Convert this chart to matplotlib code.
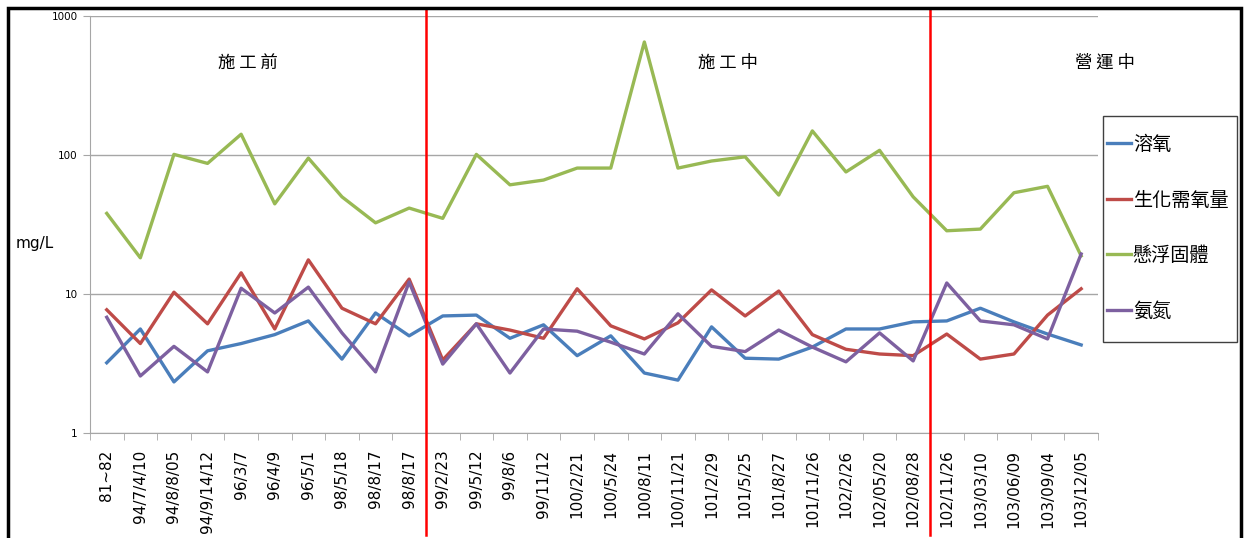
import matplotlib
matplotlib.use("Agg")
import matplotlib.pyplot as plt
from matplotlib.patches import Rectangle
from matplotlib.ticker import FixedLocator, NullLocator, NullFormatter

plt.rcParams["font.family"] = ["DejaVu Sans", "Noto Sans CJK TC"]

dates = [
    "81~82", "94/7/4/10", "94/8/8/05", "94/9/14/12", "96/3/7", "96/4/9", "96/5/1",
    "98/5/18", "98/8/17", "98/8/17", "99/2/23", "99/5/12", "99/8/6", "99/11/12",
    "100/2/21", "100/5/24", "100/8/11", "100/11/21", "101/2/29", "101/5/25",
    "101/8/27", "101/11/26", "102/2/26", "102/05/20", "102/08/28", "102/11/26",
    "103/03/10", "103/06/09", "103/09/04", "103/12/05",
]

# 溶氧
dissolved_oxygen = [
    3.2, 5.6, 2.33, 3.9, 4.4, 5.1, 6.4, 3.4, 7.3, 5.0,
    6.95, 7.05, 4.8, 6.0, 3.6, 5.0, 2.7, 2.4, 5.8, 3.45,
    3.4, 4.15, 5.6, 5.6, 6.3, 6.4, 7.9, 6.3, 5.15, 4.3,
]
# 生化需氧量
bod = [
    7.7, 4.4, 10.3, 6.1, 14.2, 5.6, 17.6, 7.9, 6.1, 12.8,
    3.35, 6.1, 5.5, 4.8, 10.9, 5.9, 4.75, 6.2, 10.7, 6.95,
    10.5, 5.1, 4.0, 3.7, 3.6, 5.15, 3.4, 3.7, 7.05, 10.9,
]
# 懸浮固體
suspended_solids = [
    38, 18.2, 101, 87, 141, 44.5, 95, 50, 32.5, 41.5,
    35, 101, 61, 66, 80.5, 80.5, 650, 80.5, 90.5, 97,
    51.5, 149, 75.5, 108, 50, 28.5, 29.3, 53.5, 59.5, 18.8,
]
# 氨氮
ammonia = [
    6.8, 2.57, 4.2, 2.75, 11.0, 7.3, 11.2, 5.25, 2.75, 12.2,
    3.13, 6.1, 2.7, 5.6, 5.4, 4.5, 3.7, 7.2, 4.2, 3.85,
    5.5, 4.15, 3.25, 5.25, 3.3, 12.0, 6.4, 6.0, 4.75, 19.4,
]

series_names = ["溶氧", "生化需氧量", "懸浮固體", "氨氮"]
series_colors = ["#4A7EBB", "#BE4B48", "#98B954", "#7D60A0"]

phase_names = ["施 工 前", "施 工 中", "營 運 中"]
phase_label_x = [4.2, 18.5, 29.7]
phase_breaks = [9.5, 24.5]


def main():
    fig = plt.figure(figsize=(12.44, 5.38), dpi=100)
    ax = fig.add_axes([0.0723, 0.1952, 0.8103, 0.7751])

    x = list(range(len(dates)))
    all_series = [dissolved_oxygen, bod, suspended_solids, ammonia]
    for values, name, color in zip(all_series, series_names, series_colors):
        ax.plot(x, values, color=color, linewidth=2.4, label=name)

    ax.set_yscale("log")
    ax.set_ylim(1, 1000)
    ax.set_xlim(-0.5, len(dates) - 0.5)

    ax.yaxis.set_major_locator(FixedLocator([1, 10, 100, 1000]))
    ax.yaxis.set_minor_locator(NullLocator())
    ax.yaxis.set_minor_formatter(NullFormatter())
    ax.set_yticklabels(["1", "10", "100", "1000"], fontsize=7.5)
    ax.grid(True, axis="y", color="#A6A6A6", linewidth=1)

    ax.set_xticks(x)
    ax.set_xticklabels(dates, rotation=90, fontsize=11)
    ax.set_xticks([i - 0.5 for i in range(len(dates) + 1)], minor=True)
    ax.tick_params(axis="x", which="major", length=0, pad=12)
    ax.tick_params(axis="x", which="minor", length=5, color="#A6A6A6", direction="out")
    ax.tick_params(axis="y", length=5, color="#A6A6A6", pad=4)

    for side in ["top", "right"]:
        ax.spines[side].set_visible(False)
    for side in ["left", "bottom"]:
        ax.spines[side].set_color("#A6A6A6")

    # phase separators run past the plot area
    for b in phase_breaks:
        ax.axvline(b, ymin=-0.245, ymax=1.02, color="#FF0000", linewidth=1.8,
                   clip_on=False, zorder=5)

    for name, px in zip(phase_names, phase_label_x):
        ax.text(px, 460, name, ha="center", va="center", fontsize=12.5,
                family=["Noto Sans CJK TC", "DejaVu Sans"])

    fig.text(0.028, 0.548, "mg/L", ha="center", va="center", fontsize=11)

    # legend entries without frame, box drawn separately to get Excel-like padding
    fig.legend(loc="upper left", bbox_to_anchor=(1107 / 1244, 1 - 134 / 538),
               prop={"family": ["Noto Sans CJK TC", "DejaVu Sans"], "size": 13.8},
               frameon=False, handlelength=1.25, handletextpad=0.1,
               labelspacing=1.8, borderpad=0, borderaxespad=0)
    fig.patches.append(Rectangle((1103 / 1244, 1 - 342 / 538), 134 / 1244, 226 / 538,
                                 transform=fig.transFigure, fill=False,
                                 edgecolor="#404040", linewidth=1))

    fig.patches.append(Rectangle((8 / 1244, -0.05), 1233 / 1244, 1 - 8 / 538 + 0.05,
                                 transform=fig.transFigure, fill=False,
                                 edgecolor="black", linewidth=2.5))

    fig.savefig("out.png", dpi=100)


if __name__ == "__main__":
    main()
